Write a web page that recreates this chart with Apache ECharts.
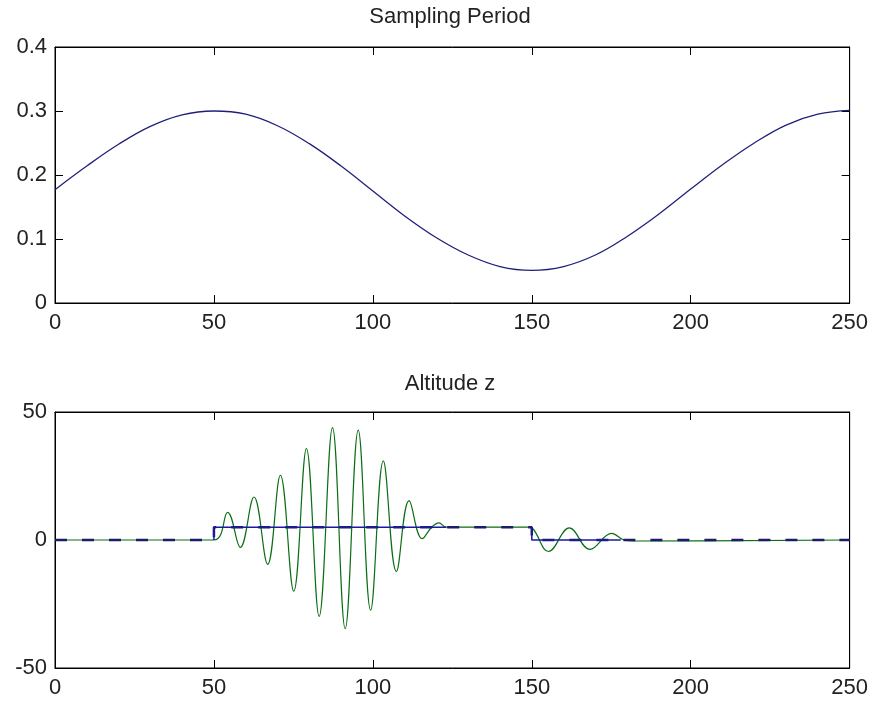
<!DOCTYPE html>
<html>
<head>
<meta charset="utf-8">
<script src="https://cdn.jsdelivr.net/npm/echarts@6/dist/echarts.min.js"></script>
<style>
  html, body { margin: 0; padding: 0; background: #fff; }
  #chart { width: 871px; height: 702px; }
</style>
</head>
<body>
<div id="chart"></div>
<script>
// top panel: sampling period, read every 10 samples
var periodX = [0, 10, 20, 30, 40, 50, 60, 70, 80, 90, 100, 110, 120, 130, 140, 150, 160, 170, 180, 190, 200, 210, 220, 230, 240, 250];
var periodY = [0.177, 0.214, 0.248, 0.276, 0.294, 0.300, 0.295, 0.277, 0.249, 0.214, 0.175, 0.136, 0.102, 0.075, 0.057, 0.051, 0.057, 0.075, 0.104, 0.139, 0.178, 0.216, 0.250, 0.278, 0.295, 0.301];

// bottom panel: altitude z (green), peaks/troughs
var zX = [0, 50, 54.3, 58.3, 62.6, 66.9, 70.9, 75.1, 79.1, 83.1, 87.3, 91.3, 95.4, 99.3, 103.3, 107.4, 111.4, 115.5, 118.5, 120.8, 123, 149, 150.5, 155.3, 161.8, 168.3, 175.1, 179, 182, 250];
var zY = [0, 0, 10.8, -2.9, 16.8, -9.5, 25.3, -20, 35.7, -29.8, 43.9, -34.6, 42.9, -27.4, 30.9, -12.3, 15.4, 0.5, 5, 6.7, 5, 5, 4.2, -4.5, 4.7, -3.7, 2.6, 0, -0.4, 0];

// reference step (dashed) and the parts that show as solid blue
var refX = [0, 50, 50, 150, 150, 250];
var refY = [0, 0, 5, 5, 0, 0];
var solidAX = [50, 50, 123];
var solidAY = [0, 5, 5];
var solidBX = [150, 150, 178];
var solidBY = [5, 0, 0];

var xTicks = [0, 250, 50];          // min, max, step
var periodTicks = [0, 0.4, 0.1];
var zTicks = [-50, 50, 50];

function pairs(xs, ys) {
  return xs.map(function (x, i) { return [x, ys[i]]; });
}

var chart = echarts.init(document.getElementById('chart'), null, { renderer: 'canvas' });

var font = 'Liberation Sans, Arial, Helvetica, sans-serif';
var txt = '#222';

function xAx(grid, pos, labels) {
  return {
    type: 'value', gridIndex: grid, position: pos,
    min: xTicks[0], max: xTicks[1], interval: xTicks[2],
    axisLine: { show: true, onZero: false, lineStyle: { color: '#000', width: 1 } },
    axisTick: { show: true, inside: true, length: 8, lineStyle: { color: '#000' } },
    axisLabel: { show: labels, margin: 9, fontSize: 22, color: txt, fontFamily: font },
    splitLine: { show: false }
  };
}
function yAx(grid, pos, t, labels) {
  return {
    type: 'value', gridIndex: grid, position: pos,
    min: t[0], max: t[1], interval: t[2],
    axisLine: { show: true, onZero: false, lineStyle: { color: '#000', width: 1 } },
    axisTick: { show: true, inside: true, length: 8, lineStyle: { color: '#000' } },
    axisLabel: { show: labels, margin: 8, fontSize: 22, color: txt, fontFamily: font },
    splitLine: { show: false }
  };
}

var option = {
  animation: false,
  backgroundColor: '#fff',
  title: [
    { text: 'Sampling Period', left: 450, top: 6, padding: 0, textAlign: 'center',
      textStyle: { fontSize: 22, fontWeight: 'normal', color: txt, fontFamily: font } },
    { text: 'Altitude z', left: 450, top: 373, padding: 0, textAlign: 'center',
      textStyle: { fontSize: 22, fontWeight: 'normal', color: txt, fontFamily: font } }
  ],
  grid: [
    { left: 55, right: 20, top: 47, height: 256, show: true, borderColor: '#000', borderWidth: 1 },
    { left: 55, right: 20, top: 412, height: 256, show: true, borderColor: '#000', borderWidth: 1 }
  ],
  xAxis: [xAx(0, 'bottom', true), xAx(0, 'top', false), xAx(1, 'bottom', true), xAx(1, 'top', false)],
  yAxis: [yAx(0, 'left', periodTicks, true), yAx(0, 'right', periodTicks, false),
          yAx(1, 'left', zTicks, true), yAx(1, 'right', zTicks, false)],
  series: [
    { name: 'period', type: 'line', xAxisIndex: 0, yAxisIndex: 0, showSymbol: false, smooth: 0.4,
      data: pairs(periodX, periodY), lineStyle: { color: '#20207a', width: 1.3 } },
    { name: 'z', type: 'line', xAxisIndex: 2, yAxisIndex: 2, showSymbol: false, smooth: 0.4,
      data: pairs(zX, zY), lineStyle: { color: '#0b6e14', width: 1.2 } },
    { name: 'ref', type: 'line', xAxisIndex: 2, yAxisIndex: 2, showSymbol: false,
      data: pairs(refX, refY), lineStyle: { color: '#1c1c6a', width: 2.5, type: [12, 15] } },
    { name: 'refA', type: 'line', xAxisIndex: 2, yAxisIndex: 2, showSymbol: false,
      data: pairs(solidAX, solidAY), lineStyle: { color: '#1a1aa0', width: 1.5 } },
    { name: 'refB', type: 'line', xAxisIndex: 2, yAxisIndex: 2, showSymbol: false,
      data: pairs(solidBX, solidBY), lineStyle: { color: '#1a1aa0', width: 1.5 } }
  ]
};

chart.setOption(option);
</script>
</body>
</html>
